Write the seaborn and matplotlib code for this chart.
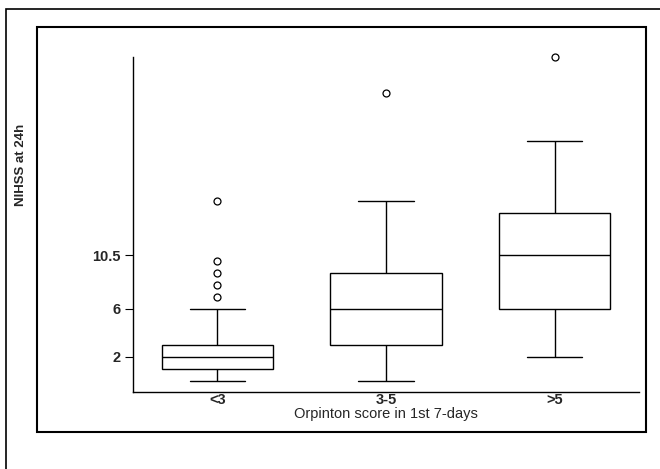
import numpy as np
import pandas as pd
import matplotlib
matplotlib.use('Agg')
import matplotlib.pyplot as plt
from matplotlib.patches import Rectangle
import seaborn as sns

categories = ['<3', '3-5', '>5']
nihss_lt3 = [0, 0, 1, 1, 1, 1, 1, 1, 2, 2, 2, 2, 2, 2, 3, 3, 3, 3, 3, 6, 7, 8, 9, 10, 15]
nihss_3to5 = [0, 2, 3, 5, 6, 8, 9, 15, 24]
nihss_gt5 = [2, 4, 6, 9, 10.5, 12, 14, 20, 27]
yticks = [2, 6, 10.5]

groups = [nihss_lt3, nihss_3to5, nihss_gt5]
df = pd.DataFrame({
	'Orpinton': np.repeat(categories, [len(g) for g in groups]),
	'NIHSS': np.concatenate(groups),
})

sns.set_style('white')
plt.rcParams['font.family'] = ['Liberation Sans', 'DejaVu Sans']

fig = plt.figure(figsize=(6.6, 4.69), dpi=100)
ax = fig.add_axes([133/660, 1-391.7/469, (639-133)/660, (391.7-57.3)/469])

line = dict(color='black', linewidth=1)
sns.boxplot(x='Orpinton', y='NIHSS', data=df, order=categories, ax=ax,
	width=0.66, color='white', linecolor='black', linewidth=1,
	flierprops=dict(marker='o', markersize=5, markerfacecolor='white',
		markeredgecolor='black', markeredgewidth=0.9),
	boxprops=dict(facecolor='white', edgecolor='black'),
	medianprops=line, whiskerprops=line, capprops=line)
for ln in ax.lines:
	ln.set_clip_on(False)

ax.set_xlim(-0.5, 2.5)
ax.set_ylim(-0.9, 27)
ax.set_yticks(yticks)
ax.set_yticklabels(['2', '6', '10.5'], fontsize=10.5, fontweight='bold')
ax.set_xticks(range(3))
ax.set_xticklabels(categories, fontsize=10.5, fontweight='bold')
ax.tick_params(axis='y', length=6, width=0.8, color='black', pad=3, left=True)
ax.tick_params(axis='x', length=0, pad=1)
sns.despine(ax=ax)
for s in ['left', 'bottom']:
	ax.spines[s].set_color('black')
	ax.spines[s].set_linewidth(1)
ax.set_ylabel('')
ax.set_xlabel('Orpinton score in 1st 7-days', fontsize=10.5, labelpad=0)

fig.text(21/660, 1-165/469, 'NIHSS at 24h', rotation=90, fontsize=9.5,
	fontweight='bold', ha='center', va='center')

# outer and inner frames
fig.patches.append(Rectangle((5.7/660, -0.1), 1.2, 1-9.5/469+0.1, transform=fig.transFigure,
	fill=False, edgecolor='black', linewidth=1.2))
fig.patches.append(Rectangle((37.3/660, 1-431.5/469), (645.7-37.3)/660, (431.5-27.3)/469,
	transform=fig.transFigure, fill=False, edgecolor='black', linewidth=1.5))

plt.savefig('out.png', dpi=100)
